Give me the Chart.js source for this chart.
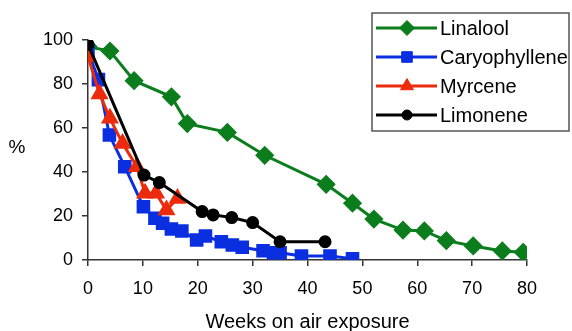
<!DOCTYPE html>
<html>
<head>
<meta charset="utf-8">
<script src="https://cdn.jsdelivr.net/npm/chart.js@4.4.1/dist/chart.umd.min.js"></script>
<style>
  html, body { margin: 0; padding: 0; background: #fff; }
  #wrap { width: 572px; height: 331px; }
</style>
</head>
<body>
<div id="wrap"><canvas id="myChart"></canvas></div>
<script>
// weeks and % remaining
const linaloolWeeks = [0, 4, 8.4, 15.2, 18.1, 25.4, 32.2, 43.4, 48.2, 52.1, 57.4, 61.3, 65.3, 70.2, 75.5, 79.3];
const linaloolValues = [97, 95, 81.5, 74.2, 62, 58, 47.6, 34.4, 25.8, 18.6, 13.6, 13.2, 8.8, 6.4, 4.1, 3.5];

const caryoWeeks = [0, 1.9, 3.9, 6.7, 10.1, 12.2, 13.6, 15.2, 17.1, 19.8, 21.4, 24.3, 26.3, 28.1, 31.9, 33.8, 35, 38.9, 44.1, 48.2];
const caryoValues = [95, 82, 56.8, 42.4, 24.2, 19, 16.7, 14.1, 13.2, 9.1, 10.9, 8.3, 6.8, 5.8, 4.2, 3.3, 3.3, 1.8, 1.8, 0.6];

const myrceneWeeks = [0, 2.1, 4.0, 6.3, 8.9, 10.4, 12.4, 14.3, 16.3];
const myrceneValues = [92.4, 75.5, 64.4, 53, 42.4, 30.3, 30.3, 22.7, 28];

const limoneneWeeks = [0, 10.2, 13, 20.8, 22.8, 26.2, 30, 35, 43.2];
const limoneneValues = [98, 38.6, 35.2, 22, 20.5, 19.3, 17, 8.3, 8.3];

const xTicks = [0, 10, 20, 30, 40, 50, 60, 70, 80];
const yTicks = [0, 20, 40, 60, 80, 100];

function pairs(xs, ys) {
    return xs.map((x, i) => ({ x: x, y: ys[i] }));
}

const FONT = 'Liberation Sans, Arial, sans-serif';

// legend with line + marker samples, like the original
const boxLegend = {
    id: 'boxLegend',
    afterDraw(chart) {
        const ctx = chart.ctx;
        ctx.save();
        ctx.fillStyle = '#fff';
        ctx.strokeStyle = '#555';
        ctx.lineWidth = 1.5;
        ctx.fillRect(372, 13, 197, 118);
        ctx.strokeRect(372, 13, 197, 118);
        chart.data.datasets.forEach((ds, i) => {
            const y = 28 + i * 29;
            ctx.strokeStyle = ds.borderColor;
            ctx.lineWidth = ds.borderWidth;
            ctx.beginPath();
            ctx.moveTo(376, y);
            ctx.lineTo(437, y);
            ctx.stroke();
            ctx.fillStyle = ds.pointBackgroundColor;
            ctx.strokeStyle = ds.pointBorderColor;
            ctx.lineWidth = 1;
            Chart.helpers.drawPoint(ctx, {
                pointStyle: ds.pointStyle,
                radius: ds.pointRadius,
                rotation: 0,
                borderWidth: 1
            }, 407, y);
            ctx.fillStyle = '#000';
            ctx.font = '20px ' + FONT;
            ctx.textBaseline = 'middle';
            ctx.textAlign = 'left';
            ctx.fillText(ds.label, 440, y + 1);
        });
        // horizontal "%" axis title
        ctx.fillStyle = '#000';
        ctx.font = '19px ' + FONT;
        ctx.textAlign = 'center';
        ctx.textBaseline = 'middle';
        ctx.fillText('%', 17, 148);
        ctx.restore();
    }
};

document.addEventListener("DOMContentLoaded", function () {
    const ctx = document.getElementById('myChart');

    new Chart(ctx, {
        type: 'line',
        data: {
            datasets: [{
                label: 'Linalool',
                data: pairs(linaloolWeeks, linaloolValues),
                borderColor: '#0b7d1c',
                pointBackgroundColor: '#0b7d1c',
                pointBorderColor: '#0b7d1c',
                pointStyle: 'rectRot',
                pointRadius: 7.5,
                borderWidth: 3,
                order: 3
            }, {
                label: 'Caryophyllene',
                data: pairs(caryoWeeks, caryoValues),
                borderColor: '#0a2fe0',
                pointBackgroundColor: '#0a2fe0',
                pointBorderColor: '#0a2fe0',
                pointStyle: 'rect',
                pointRadius: 7.5,
                borderWidth: 3,
                order: 2
            }, {
                label: 'Myrcene',
                data: pairs(myrceneWeeks, myrceneValues),
                borderColor: '#ec2a0c',
                pointBackgroundColor: '#ec2a0c',
                pointBorderColor: '#ec2a0c',
                pointStyle: 'triangle',
                pointRadius: 7.5,
                borderWidth: 3,
                order: 1
            }, {
                label: 'Limonene',
                data: pairs(limoneneWeeks, limoneneValues),
                borderColor: '#000',
                pointBackgroundColor: '#000',
                pointBorderColor: '#000',
                pointStyle: 'circle',
                pointRadius: 5,
                borderWidth: 3,
                order: 0
            }]
        },
        options: {
            responsive: true,
            maintainAspectRatio: false,
            animation: false,
            layout: { padding: { left: 0, right: 45, top: 40, bottom: 0 } },
            plugins: {
                legend: { display: false },
                tooltip: { enabled: false }
            },
            elements: { line: { tension: 0 } },
            scales: {
                x: {
                    type: 'linear',
                    min: 0,
                    max: 80,
                    afterBuildTicks: (s) => { s.ticks = xTicks.map(v => ({ value: v })); },
                    afterFit: (s) => { s.height = 71; },
                    ticks: { color: '#000', font: { family: FONT, size: 18 }, padding: 12, maxRotation: 0 },
                    grid: { drawOnChartArea: false, drawTicks: true, tickLength: 6, color: '#333', lineWidth: 1.5 },
                    border: { color: '#333', width: 1.5 },
                    title: {
                        display: true,
                        text: 'Weeks on air exposure', // x-axis label
                        color: '#000',
                        font: { family: FONT, size: 20 },
                        padding: { top: 0, bottom: -3 }
                    }
                },
                y: {
                    min: 0,
                    max: 100,
                    afterBuildTicks: (s) => { s.ticks = yTicks.map(v => ({ value: v })); },
                    afterFit: (s) => { s.width = 88; },
                    ticks: { color: '#000', font: { family: FONT, size: 18 }, padding: 9 },
                    grid: { drawOnChartArea: false, drawTicks: true, tickLength: 6, color: '#333', lineWidth: 1.5 },
                    border: { color: '#333', width: 1.5 }
                }
            }
        },
        plugins: [boxLegend]
    });
});
</script>
</body>
</html>
